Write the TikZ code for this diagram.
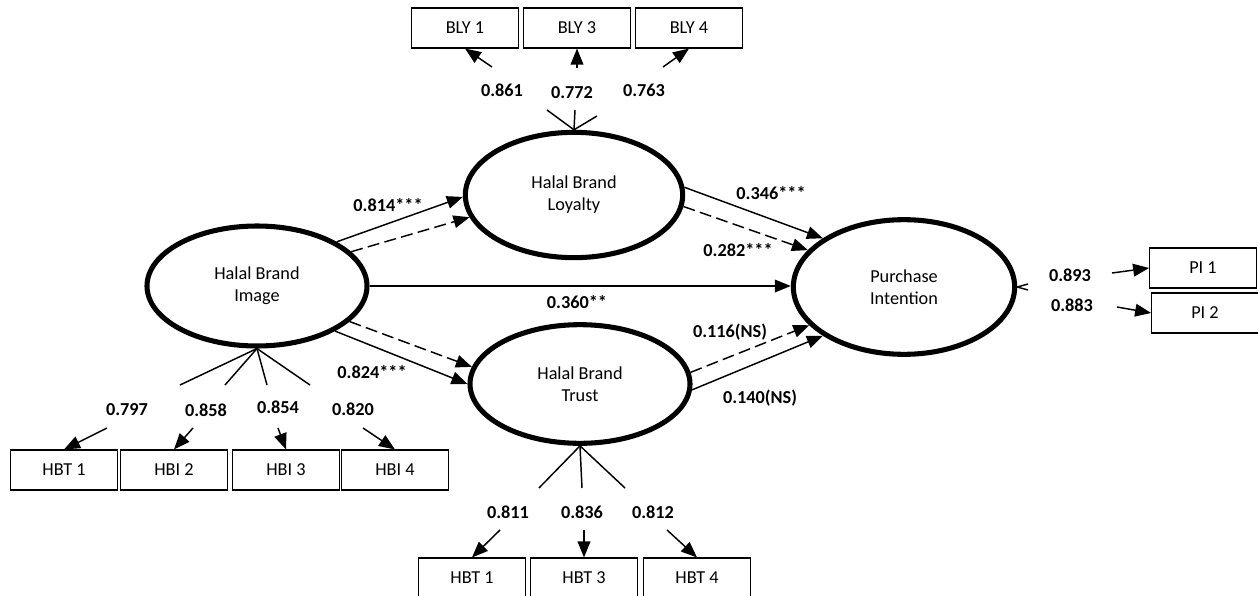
\documentclass[tikz,border=0pt]{standalone}
\usepackage{fontspec}
\setmainfont{Carlito}
\usetikzlibrary{shapes.geometric,arrows.meta}

\tikzset{every picture/.style={line width=0.75pt}}
\tikzset{
  construct/.style={draw, ellipse, line width=3.8pt, align=center, inner sep=0pt,
    font=\fontsize{13.7}{16.5}\selectfont},
  indbox/.style={draw, rectangle, line width=0.8pt, minimum width=80pt,
    minimum height=30pt, inner sep=0pt, font=\fontsize{13.7}{16}\selectfont},
  coef/.style={font=\bfseries\fontsize{13.7}{16}\selectfont, inner sep=1pt},
  effect/.style={line width=1.1pt, -{Triangle[length=12pt,width=9.5pt]}},
  deffect/.style={effect, dash pattern=on 9pt off 4pt},
  loading/.style={line width=1.1pt},
}

\begin{document}
\begin{tikzpicture}[x={(0.75pt,0pt)}, y={(0pt,-0.75pt)}]
  \useasboundingbox (0,0) rectangle (1258,596);

  % Constructs
  \node[construct, minimum width=165pt, minimum height=90pt] (hbi) at (257,286) {Halal Brand\\Image};
  \node[construct, minimum width=163pt, minimum height=94pt] (hbl) at (574,195) {Halal Brand\\Loyalty};
  \node[construct, minimum width=165pt, minimum height=89pt] (hbt) at (580,384) {Halal Brand\\Trust};
  \node[construct, minimum width=166pt, minimum height=101pt] (pi) at (904,287) {Purchase\\Intention};

  % Indicators
  \foreach \n/\x/\t in {lbox1/465/BLY 1, lbox3/577/BLY 3, lbox4/689/BLY 4}
    \node[indbox] (\n) at (\x,28) {\t};
  \foreach \n/\x/\t in {ibox1/64/HBT 1, ibox2/174/HBI 2, ibox3/286/HBI 3, ibox4/395/HBI 4}
    \node[indbox] (\n) at (\x,470) {\t};
  \foreach \n/\x/\t in {tbox1/472/HBT 1, tbox3/584/HBT 3, tbox4/697/HBT 4}
    \node[indbox] (\n) at (\x,578) {\t};
  \node[indbox] (pbox1) at (1203,268) {PI 1};
  \node[indbox] (pbox2) at (1205,313) {PI 2};

  % Loadings
  \foreach \n/\x/\y in {lend1/547/110, lend3/575/110, lend4/597/116}
    {\coordinate (\n) at (\x,\y); \draw[loading] (hbl.north) -- (\n);}
  \foreach \n/\x/\y in {iend1/180/385, iend2/225/385, iend3/267/385, iend4/310/385}
    {\coordinate (\n) at (\x,\y); \draw[loading] (hbi.south) -- (\n);}
  \foreach \n/\x/\y in {tend1/539/488, tend3/582/488, tend4/625/488}
    {\coordinate (\n) at (\x,\y); \draw[loading] (hbt.south) -- (\n);}
  \coordinate (pend1) at (1028,284);
  \coordinate (pend2) at (1028,290);
  \draw[loading] (pend1) -- (pi.east) -- (pend2);

  \foreach \n/\x/\y in {lbox1/492/67, lbox3/577/68, lbox4/663/67}
    {\coordinate (s\n) at (\x,\y); \draw[effect] (s\n) -- (\n.south);}
  \foreach \n/\x/\y in {ibox1/107/428, ibox2/193/428, ibox3/278/428, ibox4/363/428,
    tbox1/500/530, tbox3/584/530, tbox4/667/530}
    {\coordinate (s\n) at (\x,\y); \draw[effect] (s\n) -- (\n.north);}
  \foreach \n/\x/\y in {pbox1/1112/273, pbox2/1117/307}
    {\coordinate (s\n) at (\x,\y); \draw[effect] (s\n) -- (\n.west);}

  \foreach \n/\x/\y/\v in {c861/502/90/0.861, c772/572/93/0.772, c763/644/90/0.763,
    c797/127/410/0.797, c858/206/410/0.858, c854/278/407/0.854, c820/353/409/0.820,
    c811/508/512/0.811, c836/582/512/0.836, c812/653/512/0.812,
    c893/1070/275/0.893, c883/1072/305/0.883}
    \node[coef] (\n) at (\x,\y) {\v};

  % Paths
  \draw[effect] (hbi.29) -- (hbl.181);
  \draw[deffect] (hbi.20) -- (hbl.192);
  \draw[effect] (hbi.east) -- (hbi.east -| pi.west);
  \draw[deffect] (hbi.-21) -- (hbt.171);
  \draw[effect] (hbi.-30) -- (hbt.180);
  \draw[effect] (hbl.4) -- (pi.149);
  \draw[deffect] (hbl.-6) -- (pi.159);
  \draw[deffect] (hbt.6) -- (pi.202);
  \draw[effect] (hbt.-3) -- (pi.211);

  \node[coef] (b814) at (388,205) {0.814***};
  \node[coef] (b360) at (577,302) {0.360**};
  \node[coef] (b824) at (372,372) {0.824***};
  \node[coef] (b346) at (771,193) {0.346***};
  \node[coef] (b282) at (738,250) {0.282***};
  \node[coef] (b116) at (730,332) {0.116(NS)};
  \node[coef] (b140) at (760,398) {0.140(NS)};
\end{tikzpicture}
\end{document}
